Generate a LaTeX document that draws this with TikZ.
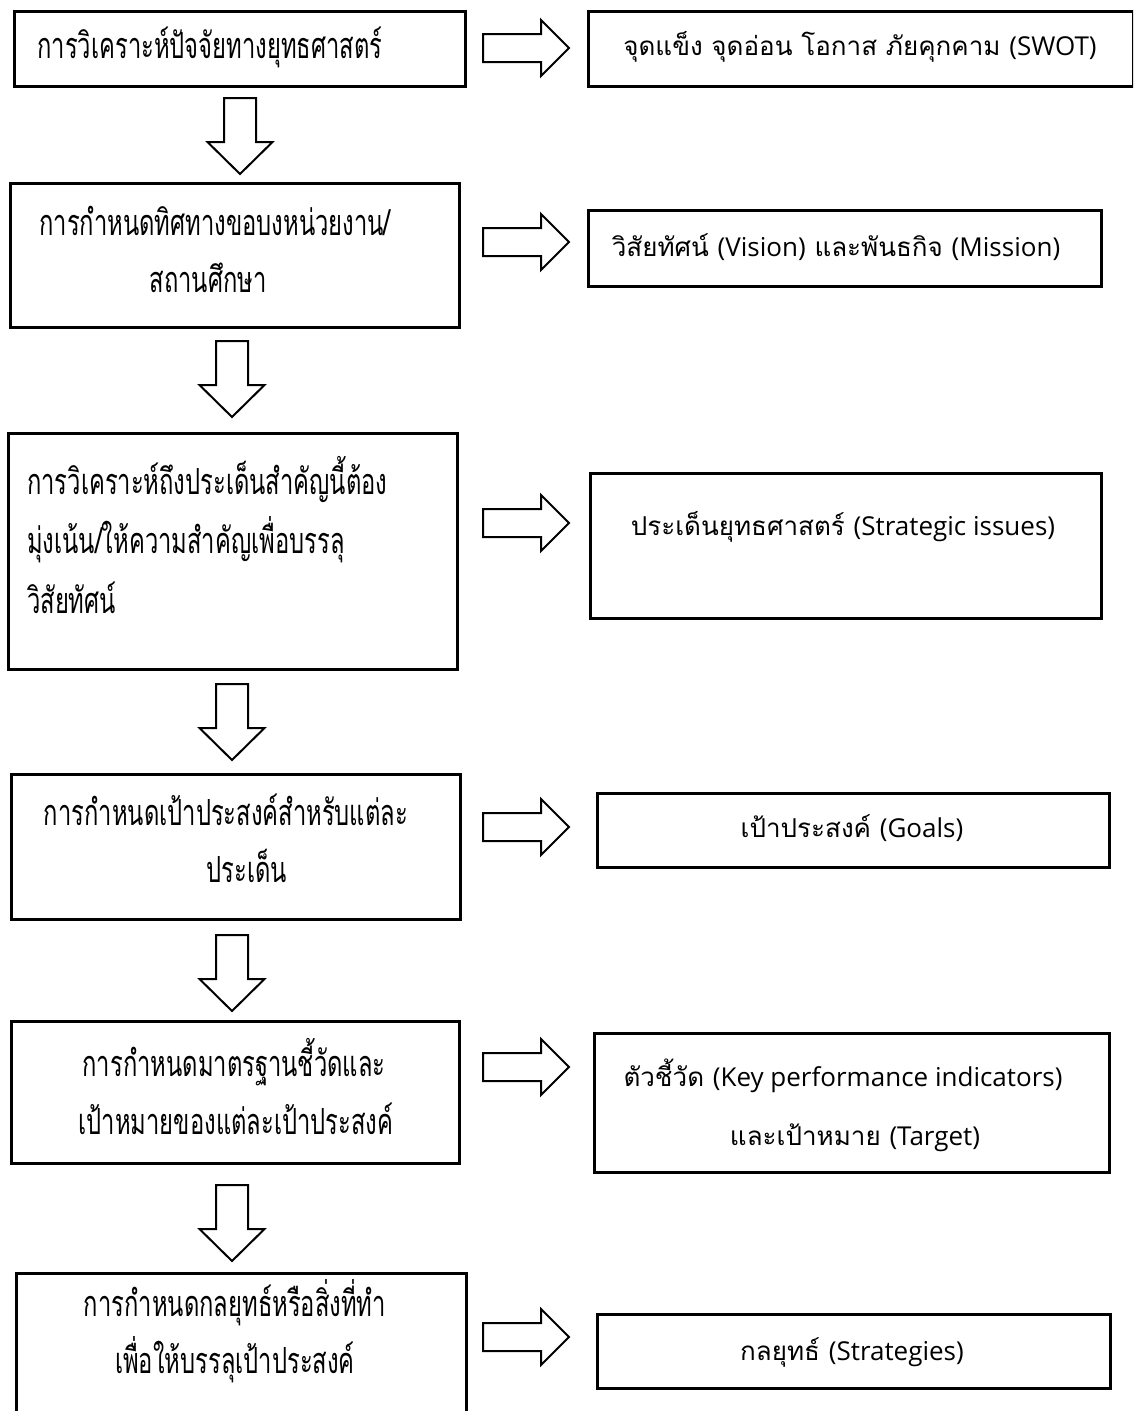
\documentclass[tikz,border=0pt]{standalone}
\usepackage{fontspec}
\newfontfamily\thaiL[Script=Thai,FakeStretch=0.66]{Loma}
\newfontfamily\thaiR[Script=Thai]{Loma}
\newfontfamily\latR{Open Sans}
\newcommand\lt[1]{{\latR #1}}
\tikzset{
  box/.style={draw=black,line width=2.6pt,anchor=north west,inner sep=0pt},
  ltext/.style={font=\thaiL\fontsize{36}{40}\selectfont,inner sep=0pt,text=black},
  rtext/.style={font=\thaiR\fontsize{26}{30}\selectfont,inner sep=0pt,text=black},
  arrline/.style={draw=black,line width=2pt,fill=white,line join=miter},
}
\newcommand\mkbox[5]{\node[box,minimum width=#4pt-#2pt,minimum height=#5pt-#3pt] (#1) at (#2,#3) {};}
% right block arrow centred at (#1,#2)
\newcommand\rarr[2]{\draw[arrline] (#1-43,#2-14) -- (#1+15,#2-14) -- (#1+15,#2-28) -- (#1+43,#2) -- (#1+15,#2+28) -- (#1+15,#2+14) -- (#1-43,#2+14) -- cycle;}
% down block arrow centred at (#1,#2)
\newcommand\darr[2]{\draw[arrline] (#1-16,#2-38) -- (#1+16,#2-38) -- (#1+16,#2+6) -- (#1+32.5,#2+6) -- (#1,#2+38) -- (#1-32.5,#2+6) -- (#1-16,#2+6) -- cycle;}
\begin{document}
\begin{tikzpicture}[x=1pt,y=-1pt]
\useasboundingbox (0,0) rectangle (1133,1411);
\fill[white] (0,0) rectangle (1133,1411);
\begin{scope}
\clip (0,0) rectangle (1133,1411);
% boxes
\mkbox{L1}{13}{10}{464}{85}
\mkbox{R1}{587}{10}{1132}{85}
\mkbox{L2}{9}{182}{458}{326}
\mkbox{R2}{587}{209}{1100}{285}
\mkbox{L3}{7}{432}{456}{668}
\mkbox{R3}{589}{472}{1100}{617}
\mkbox{L4}{10}{773}{459}{918}
\mkbox{R4}{596}{792}{1108}{866}
\mkbox{L5}{10}{1020}{458}{1162}
\mkbox{R5}{593}{1032}{1108}{1171}
\mkbox{L6}{15}{1272}{465}{1425}
\mkbox{R6}{596}{1313}{1109}{1387}
\end{scope}
% right arrows
\rarr{526}{48}
\rarr{526}{242}
\rarr{526}{523}
\rarr{526}{827}
\rarr{526}{1067}
\rarr{526}{1337}
% down arrows
\darr{240}{136}
\darr{232}{379}
\darr{232}{722}
\darr{232}{973}
\darr{232}{1223}
% left texts
\node[ltext] (t1) at (210,47) {การวิเคราะห์ปัจจัยทางยุทธศาสตร์};
\node[ltext] (t2a) at (215,221) {การกำหนดทิศทางขอบงหน่วยงาน/};
\node[ltext] (t2b) at (208,278) {สถานศึกษา};
\node[ltext,anchor=west] (t3a) at (27,480) {การวิเคราะห์ถึงประเด็นสำคัญนี้ต้อง};
\node[ltext,anchor=west] (t3b) at (27,540) {มุ่งเน้น/ให้ความสำคัญเพื่อบรรลุ};
\node[ltext,anchor=west] (t3c) at (27,598) {วิสัยทัศน์};
\node[ltext] (t4a) at (226,810) {การกำหนดเป้าประสงค์สำหรับแต่ละ};
\node[ltext] (t4b) at (247,866) {ประเด็น};
\node[ltext] (t5a) at (234,1062) {การกำหนดมาตรฐานชี้วัดและ};
\node[ltext] (t5b) at (236,1119) {เป้าหมายของแต่ละเป้าประสงค์};
\node[ltext] (t6a) at (235,1303) {การกำหนดกลยุทธ์หรือสิ่งที่ทำ};
\node[ltext] (t6b) at (235,1360) {เพื่อให้บรรลุเป้าประสงค์};
% right texts
\node[rtext] (s1) at (860,47) {จุดแข็ง จุดอ่อน โอกาส ภัยคุกคาม \lt{(SWOT)}};
\node[rtext] (s2) at (836,247) {วิสัยทัศน์ \lt{(Vision)} และพันธกิจ \lt{(Mission)}};
\node[rtext] (s3) at (843,527) {ประเด็นยุทธศาสตร์ \lt{(Strategic issues)}};
\node[rtext] (s4) at (852,828) {เป้าประสงค์ \lt{(Goals)}};
\node[rtext] (s5a) at (843,1076) {ตัวชี้วัด \lt{(Key performance indicators)}};
\node[rtext] (s5b) at (855,1138) {และเป้าหมาย \lt{(Target)}};
\node[rtext] (s6) at (852,1352) {กลยุทธ์ \lt{(Strategies)}};
\end{tikzpicture}
\end{document}
